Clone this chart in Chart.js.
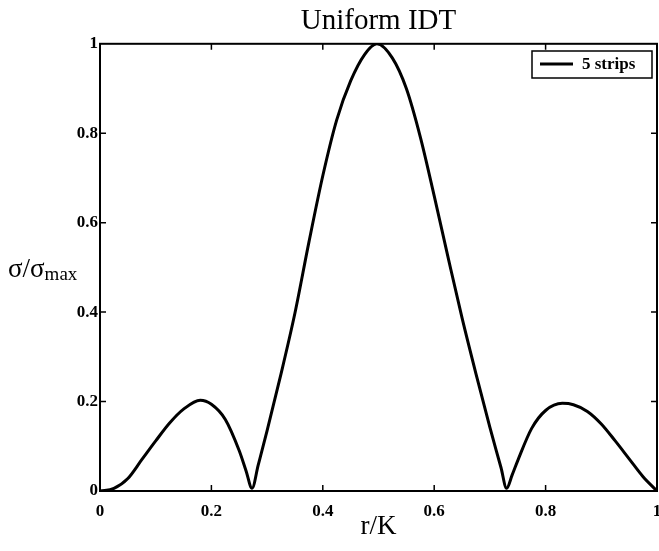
<!DOCTYPE html>
<html>
<head>
<meta charset="utf-8">
<script src="https://cdn.jsdelivr.net/npm/chart.js@4/dist/chart.umd.min.js"></script>
<style>
  html, body { margin: 0; padding: 0; background: #fff; overflow: hidden; }
</style>
</head>
<body>
<canvas id="chart" width="659" height="551"></canvas>
<script>
// values
const rK = [0, 0.025, 0.05, 0.075, 0.1, 0.125, 0.15, 0.18, 0.2, 0.225, 0.25, 0.262, 0.273,
  0.284, 0.3, 0.325, 0.35, 0.375, 0.4, 0.425, 0.45, 0.475, 0.497, 0.525, 0.55, 0.575, 0.6,
  0.625, 0.65, 0.675, 0.7, 0.72, 0.73, 0.74, 0.75, 0.775, 0.8, 0.83, 0.85, 0.875, 0.9, 0.925,
  0.95, 0.975, 1];
const sigma = [0, 0.006, 0.028, 0.07, 0.112, 0.152, 0.183, 0.203, 0.194, 0.16, 0.09, 0.046, 0.006,
  0.058, 0.135, 0.262, 0.398, 0.556, 0.705, 0.83, 0.917, 0.976, 1, 0.968, 0.9, 0.792, 0.66,
  0.522, 0.387, 0.262, 0.142, 0.052, 0.006, 0.036, 0.068, 0.14, 0.18, 0.196, 0.193, 0.178, 0.15, 0.112,
  0.072, 0.032, 0];
const seriesName = "5 strips";
const xTicks = [0, 0.2, 0.4, 0.6, 0.8, 1];
const yTicks = [0, 0.2, 0.4, 0.6, 0.8, 1];

const serif = "'Liberation Serif', 'Times New Roman', serif";

// frame, inward ticks, y title and the boxed legend
const decor = {
  id: "decor",
  afterDraw(chart) {
    const ctx = chart.ctx;
    const a = chart.chartArea;
    const xs = chart.scales.x, ys = chart.scales.y;
    ctx.save();
    ctx.strokeStyle = "#000";
    ctx.lineWidth = 2;
    ctx.strokeRect(a.left, a.top, a.right - a.left, a.bottom - a.top);

    ctx.lineWidth = 1.5;
    ctx.beginPath();
    xTicks.slice(1, -1).forEach(v => {
      const px = xs.getPixelForValue(v);
      ctx.moveTo(px, a.bottom); ctx.lineTo(px, a.bottom - 6);
      ctx.moveTo(px, a.top); ctx.lineTo(px, a.top + 6);
    });
    yTicks.slice(1, -1).forEach(v => {
      const py = ys.getPixelForValue(v);
      ctx.moveTo(a.left, py); ctx.lineTo(a.left + 6, py);
      ctx.moveTo(a.right, py); ctx.lineTo(a.right - 6, py);
    });
    ctx.stroke();

    // y axis title  σ/σmax
    ctx.fillStyle = "#000";
    ctx.textBaseline = "alphabetic";
    ctx.textAlign = "left";
    ctx.font = "27px " + serif;
    ctx.fillText("σ/σ", 8, 277);
    const w = ctx.measureText("σ/σ").width;
    ctx.font = "19px " + serif;
    ctx.fillText("max", 8 + w, 280);

    // legend
    const lx = 532, ly = 51, lw = 120, lh = 27;
    ctx.fillStyle = "#fff";
    ctx.fillRect(lx, ly, lw, lh);
    ctx.lineWidth = 1.5;
    ctx.strokeRect(lx, ly, lw, lh);
    ctx.lineWidth = 3;
    ctx.beginPath();
    ctx.moveTo(lx + 8, ly + 13); ctx.lineTo(lx + 41, ly + 13);
    ctx.stroke();
    ctx.fillStyle = "#000";
    ctx.font = "bold 17px " + serif;
    ctx.textBaseline = "middle";
    ctx.fillText(chart.data.datasets[0].label, lx + 50, ly + 14);
    ctx.restore();
  }
};

new Chart(document.getElementById("chart"), {
  type: "line",
  data: {
    labels: rK,
    datasets: [{
      label: seriesName,
      data: rK.map((x, i) => ({ x: x, y: sigma[i] })),
      borderColor: "#000",
      borderWidth: 3,
      pointRadius: 0,
      fill: false,
      cubicInterpolationMode: "monotone"
    }]
  },
  options: {
    responsive: false,
    animation: false,
    layout: { padding: { left: 0, right: 2, top: 0, bottom: 0 } },
    plugins: {
      legend: { display: false },
      tooltip: { enabled: false },
      title: {
        display: true,
        text: "Uniform IDT",
        color: "#000",
        fullSize: false,
        font: { family: serif, size: 29, weight: "normal" },
        padding: { top: 4, bottom: 5 }
      }
    },
    scales: {
      x: {
        type: "linear",
        min: 0, max: 1,
        afterBuildTicks: s => { s.ticks = xTicks.map(v => ({ value: v })); },
        afterFit: s => { s.height = 60; s.paddingLeft = 0; s.paddingRight = 0; },
        grid: { display: false, drawTicks: false },
        border: { display: false },
        ticks: {
          color: "#000",
          padding: 10,
          maxRotation: 0,
          font: { family: serif, size: 17, weight: "bold" },
          callback: v => String(v)
        },
        title: {
          display: true,
          text: "r/K",
          color: "#000",
          font: { family: serif, size: 27, weight: "normal" },
          padding: { top: 0, bottom: 8 }
        }
      },
      y: {
        min: 0, max: 1,
        afterBuildTicks: s => { s.ticks = yTicks.map(v => ({ value: v })); },
        afterFit: s => { s.width = 100; s.paddingTop = 0; s.paddingBottom = 0; },
        grid: { display: false, drawTicks: false },
        border: { display: false },
        ticks: {
          color: "#000",
          padding: 2,
          font: { family: serif, size: 17, weight: "bold" },
          callback: v => String(v)
        }
      }
    }
  },
  plugins: [decor]
});
</script>
</body>
</html>
